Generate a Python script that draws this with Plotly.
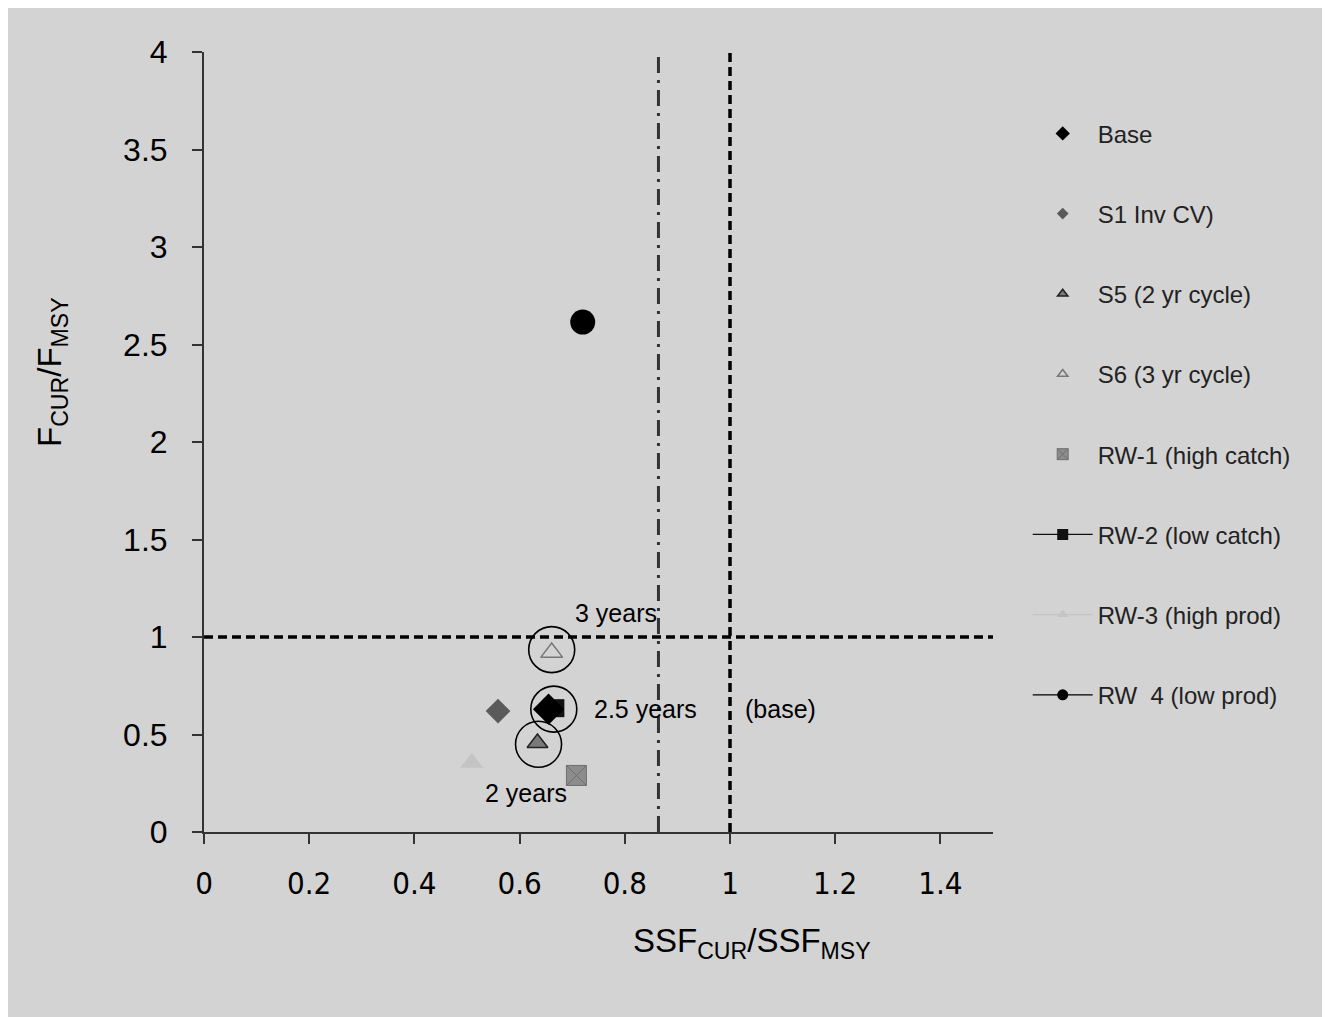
import plotly.graph_objects as go

# ---- data ----
series_names = ["Base", "S1 Inv CV)", "S5 (2 yr cycle)", "S6 (3 yr cycle)",
                "RW-1 (high catch)", "RW-2 (low catch)", "RW-3 (high prod)", "RW  4 (low prod)"]
ssf_ratio = [0.655, 0.559, 0.634, 0.661, 0.708, 0.668, 0.509, 0.720]
f_ratio = [0.63, 0.62, 0.456, 0.92, 0.29, 0.635, 0.355, 2.615]

circled_x = [0.661, 0.665, 0.636]
circled_y = [0.935, 0.63, 0.45]

annot_text = ["3 years", "2.5 years", "(base)", "2 years"]
annot_x = [0.784, 0.84, 1.096, 0.612]
annot_y = [1.125, 0.63, 0.63, 0.2]

x_ticks = [0, 0.2, 0.4, 0.6, 0.8, 1, 1.2, 1.4]
y_ticks = [0, 0.5, 1, 1.5, 2, 2.5, 3, 3.5, 4]
ref_x_alt = 0.864
ref_x = 1.0
ref_y = 1.0

# ---- styles ----
styles = [
    dict(mode="markers", marker=dict(symbol="diamond", size=24, color="#000000")),
    dict(mode="markers", marker=dict(symbol="diamond", size=19, color="#5a5a5a")),
    dict(mode="markers", marker=dict(symbol="triangle-up", size=18, color="#7a7a7a",
                                     line=dict(color="#222222", width=1.5))),
    dict(mode="markers", marker=dict(symbol="triangle-up-open", size=19, color="#777777",
                                     line=dict(width=1.5))),
    dict(mode="markers", marker=dict(symbol="square-x", size=20, color="#8c8c8c",
                                     line=dict(color="#6f6f6f", width=1))),
    dict(mode="lines+markers", marker=dict(symbol="square", size=18, color="#111111"),
         line=dict(color="#111111", width=1.2)),
    dict(mode="lines+markers", marker=dict(symbol="triangle-up", size=20, color="#c4c4c4"),
         line=dict(color="#c4c4c4", width=1.2)),
    dict(mode="lines+markers", marker=dict(symbol="circle", size=25, color="#000000"),
         line=dict(color="#000000", width=1.2)),
]
legend_marker_sizes = [11, 9, 9, 9, 11, 11, 10, 11]

BG = "#d3d3d3"
FONT = "Liberation Sans, Arial, sans-serif"
NARROW = "Liberation Sans Narrow, DejaVu Sans Condensed, Roboto Condensed, Liberation Sans, Arial, sans-serif"

fig = go.Figure()

# reference lines
fig.add_trace(go.Scatter(x=[ref_x_alt, ref_x_alt], y=[0, 4], mode="lines",
                         line=dict(color="#333333", width=3, dash="16px,7px,3px,7px"),
                         showlegend=False, hoverinfo="skip"))
fig.add_trace(go.Scatter(x=[ref_x, ref_x], y=[0, 4], mode="lines",
                         line=dict(color="#000000", width=3.5, dash="9px,5px"),
                         showlegend=False, hoverinfo="skip"))
fig.add_trace(go.Scatter(x=[0, 1.5], y=[ref_y, ref_y], mode="lines",
                         line=dict(color="#000000", width=3.5, dash="9px,5px"),
                         showlegend=False, hoverinfo="skip"))

draw_order = [1, 2, 3, 4, 6, 7, 5, 0]
for i in draw_order:
    fig.add_trace(go.Scatter(x=[ssf_ratio[i]], y=[f_ratio[i]], name=series_names[i],
                             showlegend=False, **styles[i]))

# legend entries (smaller symbols, as in the reference legend)
for i in range(len(series_names)):
    st = dict(styles[i])
    mk = dict(st["marker"])
    mk["size"] = legend_marker_sizes[i]
    st["marker"] = mk
    fig.add_trace(go.Scatter(x=[None], y=[None], name=series_names[i],
                             legendgroup=str(i), legendrank=i + 1, **st))

fig.add_trace(go.Scatter(x=circled_x, y=circled_y, mode="markers",
                         marker=dict(symbol="circle-open", size=46, color="#000000",
                                     line=dict(width=1.6)),
                         showlegend=False, hoverinfo="skip"))

for t, xx, yy in zip(annot_text, annot_x, annot_y):
    fig.add_annotation(x=xx, y=yy, text=t, showarrow=False, xref="x", yref="y",
                       xanchor="center", yanchor="middle",
                       font=dict(family=FONT, size=25, color="#000000"))

PW, PH = 789, 780
fig.add_annotation(text="SSF<sub>CUR</sub>/SSF<sub>MSY</sub>", xref="paper", yref="paper",
                   x=(752 - 204) / PW, y=-(943 - 832) / PH, showarrow=False,
                   xanchor="center", yanchor="middle",
                   font=dict(family=FONT, size=33, color="#000000"))
fig.add_annotation(text="F<sub>CUR</sub>/F<sub>MSY</sub>", xref="paper", yref="paper",
                   x=-(204 - 52) / PW, y=(832 - 372) / PH, showarrow=False, textangle=-90,
                   xanchor="center", yanchor="middle",
                   font=dict(family=FONT, size=33, color="#000000"))

fig.update_layout(
    width=1330, height=1017,
    margin=dict(l=196, r=345, t=44, b=193),
    paper_bgcolor=BG, plot_bgcolor=BG,
    font=dict(family=FONT, color="#000000"),
    legend=dict(x=1.044, y=0.924, xanchor="left", yanchor="top",
                font=dict(family=FONT, size=24, color="#222222"),
                tracegroupgap=46, itemwidth=60, bgcolor="rgba(0,0,0,0)"),
    xaxis=dict(range=[0, 1.5], tickvals=x_ticks, ticktext=[f"{v:g}" for v in x_ticks],
               showgrid=False, zeroline=False, showline=True, linecolor="#333333", linewidth=2,
               ticks="outside", ticklen=10, tickwidth=2, tickcolor="#333333",
               ticklabelstandoff=13,
               tickfont=dict(family=NARROW, size=31, color="#000000")),
    yaxis=dict(range=[0, 4], tickvals=y_ticks, ticktext=[f"{v:g}" for v in y_ticks],
               showgrid=False, zeroline=False, showline=True, linecolor="#333333", linewidth=2,
               ticks="outside", ticklen=10, tickwidth=2, tickcolor="#333333",
               ticklabelstandoff=18,
               tickfont=dict(family=FONT, size=32, color="#000000")),
)

fig.write_html("out.html")
